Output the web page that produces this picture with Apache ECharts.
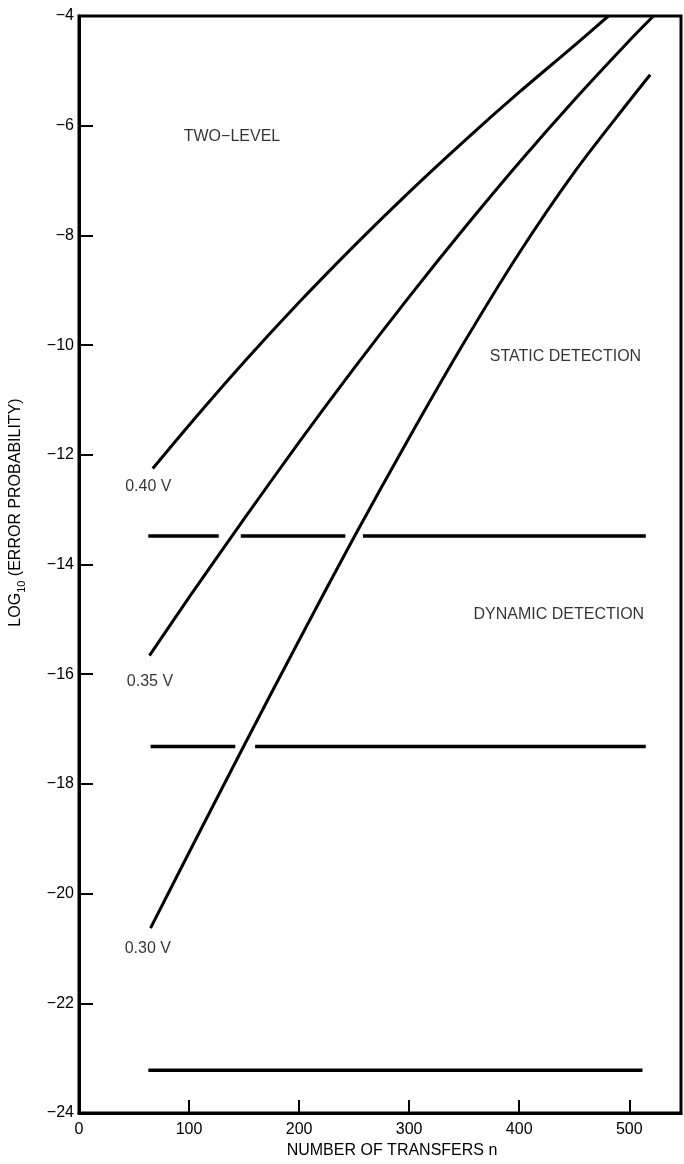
<!DOCTYPE html>
<html>
<head>
<meta charset="utf-8">
<script src="https://cdn.jsdelivr.net/npm/echarts@6/dist/echarts.min.js"></script>
<style>
  html, body { margin: 0; padding: 0; background: #fff; }
  #container { width: 684px; height: 1164px; }
</style>
</head>
<body>
<div id="container"></div>
<script>
// curves: log10(error probability) vs number of transfers n
var n040 = [67, 100, 150, 200, 250, 300, 350, 400, 450, 481];
var p040 = [-12.25, -11.46, -10.31, -9.22, -8.19, -7.21, -6.28, -5.39, -4.54, -4.0];

var n035 = [64, 100, 150, 200, 250, 300, 350, 400, 450, 500, 522];
var p035 = [-15.66, -14.6, -13.17, -11.77, -10.42, -9.12, -7.87, -6.67, -5.53, -4.45, -4.0];

var n030 = [65, 100, 150, 200, 250, 300, 350, 400, 450, 500, 519];
var p030 = [-20.63, -19.25, -17.3, -15.38, -13.5, -11.69, -9.95, -8.32, -6.85, -5.55, -5.07];

// detection limits (broken where the curves cross them)
var staticLevel = -13.48;
var staticSegs = [[63, 127], [147, 242], [258, 515]];
var dynamicLevel = -17.32;
var dynamicSegs = [[65, 142], [160, 515]];
var twoLevel = -23.22;
var twoLevelSegs = [[63, 512]];

// text labels in the plot
var noteText = ['0.40 V', '0.35 V', '0.30 V', 'TWO\u2212LEVEL', 'STATIC DETECTION', 'DYNAMIC DETECTION'];
var noteN = [63, 64.5, 62.5, 139, 442, 436];
var noteP = [-12.58, -16.13, -21.01, -6.19, -10.21, -14.91];

var yTicks = [-24, -22, -20, -18, -16, -14, -12, -10, -8, -6, -4];

function pairs(xs, ys) {
  return xs.map(function (x, i) { return [x, ys[i]]; });
}
function segLine(segs, y) {
  var out = [];
  segs.forEach(function (s, i) {
    if (i > 0) out.push(['-', '-']);
    out.push([s[0], y], [s[1], y]);
  });
  return out;
}

var font = '"Liberation Sans", Arial, sans-serif';
var chart = echarts.init(document.getElementById('container'), null, { renderer: 'canvas' });

var curveStyle = { color: '#000', width: 3 };
var limitStyle = { color: '#000', width: 3.5 };

var option = {
  backgroundColor: '#fff',
  animation: false,
  grid: {
    left: 71, right: 3, top: 16, bottom: 43,
    show: true, borderColor: '#000', borderWidth: 3, backgroundColor: 'transparent'
  },
  xAxis: {
    type: 'value',
    min: 0, max: 547, interval: 100,
    name: 'NUMBER OF TRANSFERS n',
    nameLocation: 'middle',
    nameGap: 30,
    nameTextStyle: { fontFamily: font, fontSize: 16, color: '#000', padding: [0, 0, 0, 24] },
    axisLine: { lineStyle: { color: '#000', width: 3 } },
    axisTick: { inside: true, length: 13, lineStyle: { color: '#000', width: 2 } },
    axisLabel: {
      showMaxLabel: false, margin: 9,
      fontFamily: font, fontSize: 16, color: '#000'
    },
    splitLine: { show: false }
  },
  yAxis: {
    type: 'value',
    min: yTicks[0], max: yTicks[yTicks.length - 1], interval: 2,
    name: '{a|LOG}{s|10}{a| (ERROR PROBABILITY)}',
    nameLocation: 'middle',
    nameGap: 52,
    nameRotate: 90,
    nameTextStyle: {
      fontFamily: font, fontSize: 16, color: '#000',
      padding: [0, 0, 0, 104],
      rich: {
        a: { fontFamily: font, fontSize: 16, color: '#000', lineHeight: 22, verticalAlign: 'middle' },
        s: { fontFamily: font, fontSize: 11, color: '#000', lineHeight: 22, verticalAlign: 'bottom' }
      }
    },
    axisLine: { lineStyle: { color: '#000', width: 3 } },
    axisTick: { inside: true, length: 14, lineStyle: { color: '#000', width: 2 } },
    axisLabel: {
      margin: 5,
      fontFamily: font, fontSize: 16, color: '#000',
      formatter: function (v) { return String(v).replace('-', '\u2212'); }
    },
    splitLine: { show: false }
  },
  series: [
    { name: '0.40 V', type: 'line', data: pairs(n040, p040), smooth: 0.3, showSymbol: false, lineStyle: curveStyle },
    { name: '0.35 V', type: 'line', data: pairs(n035, p035), smooth: 0.3, showSymbol: false, lineStyle: curveStyle },
    { name: '0.30 V', type: 'line', data: pairs(n030, p030), smooth: 0.3, showSymbol: false, lineStyle: curveStyle },
    { name: 'static', type: 'line', data: segLine(staticSegs, staticLevel), showSymbol: false, connectNulls: false, lineStyle: limitStyle },
    { name: 'dynamic', type: 'line', data: segLine(dynamicSegs, dynamicLevel), showSymbol: false, connectNulls: false, lineStyle: limitStyle },
    { name: 'twolevel', type: 'line', data: segLine(twoLevelSegs, twoLevel), showSymbol: false, connectNulls: false, lineStyle: limitStyle },
    {
      name: 'notes', type: 'scatter', symbolSize: 0, silent: true,
      data: noteText.map(function (t, i) { return { value: [noteN[i], noteP[i]], name: t }; }),
      label: {
        show: true, position: 'inside', formatter: '{b}',
        fontFamily: font, fontSize: 16, color: '#000'
      }
    }
  ]
};

chart.setOption(option);
</script>
</body>
</html>
